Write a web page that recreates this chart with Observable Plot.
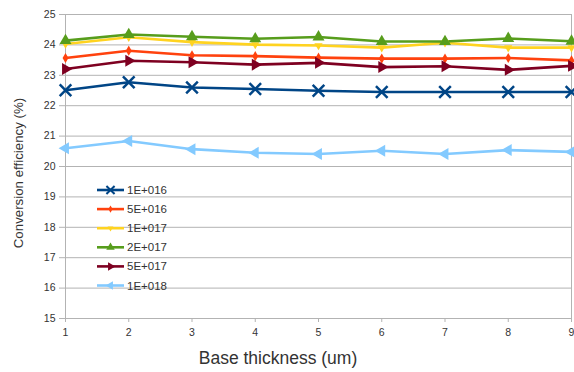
<!DOCTYPE html>
<html><head><meta charset="utf-8">
<script src="https://cdn.jsdelivr.net/npm/d3@7"></script>
<script src="https://cdn.jsdelivr.net/npm/@observablehq/plot@0.6"></script>
<style>
body{margin:0;background:#fff}
#chart{position:relative;width:574px;height:372px}
</style>
</head><body><div id="chart"></div>
<script>
const thickness = [1, 2, 3, 4, 5, 6, 7, 8, 9];
const seriesNames = ["1E+016", "5E+016", "1E+017", "2E+017", "5E+017", "1E+018"];
const s1E016 = [22.51, 22.77, 22.60, 22.55, 22.49, 22.45, 22.45, 22.45, 22.45];
const s5E016 = [23.57, 23.81, 23.66, 23.63, 23.58, 23.55, 23.55, 23.57, 23.49];
const s1E017 = [24.03, 24.25, 24.09, 24.01, 23.98, 23.91, 24.07, 23.91, 23.91];
const s2E017 = [24.14, 24.34, 24.27, 24.20, 24.26, 24.11, 24.11, 24.21, 24.12];
const s5E017 = [23.21, 23.48, 23.43, 23.35, 23.41, 23.27, 23.30, 23.18, 23.31];
const s1E018 = [20.60, 20.84, 20.57, 20.45, 20.41, 20.52, 20.41, 20.54, 20.48];
const yTicks = [15, 16, 17, 18, 19, 20, 21, 22, 23, 24, 25];
const colors = ["#004586", "#ff420e", "#ffd320", "#579d1c", "#7e0021", "#83caff"];
const xLabel = "Base thickness (um)";
const yLabel = "Conversion efficiency (%)";

const seriesValues = [s1E016, s5E016, s1E017, s2E017, s5E017, s1E018];
const rows = [];
seriesNames.forEach((name, si) => {
  seriesValues[si].forEach((v, i) => rows.push({x: thickness[i], y: v, series: name}));
});

function tri(angle) {
  return {
    draw(ctx, size) {
      const r = Math.sqrt(size) * 0.75;
      for (let k = 0; k < 3; k++) {
        const a = angle + k * 2 * Math.PI / 3;
        const px = r * Math.cos(a), py = r * Math.sin(a);
        if (k === 0) ctx.moveTo(px, py); else ctx.lineTo(px, py);
      }
      ctx.closePath();
    }
  };
}
const symbols = [
  d3.symbolTimes,
  d3.symbolDiamond,
  tri(Math.PI / 2),
  tri(-Math.PI / 2),
  tri(0),
  tri(Math.PI)
];
const symSizes = [90, 30, 40, 85, 85, 85];

const font = "'Liberation Sans', Arial, sans-serif";
const marks = [
  Plot.gridY(yTicks, {stroke: "#b3b3b3", strokeOpacity: 1}),
  Plot.ruleX([1, 9], {stroke: "#b3b3b3"}),
  Plot.axisY(yTicks, {tickSize: 6, tickPadding: 4, fontSize: 10.5, label: null, stroke: "#b3b3b3", color: "#333"}),
  Plot.axisX(thickness, {tickSize: 4, tickPadding: 6, fontSize: 10.5, label: null, stroke: "#b3b3b3", color: "#333"}),
  Plot.line(rows, {x: "x", y: "y", z: "series", stroke: "series", strokeWidth: 2.6})
];
seriesNames.forEach((name, si) => {
  const data = rows.filter(d => d.series === name);
  if (si === 0) {
    marks.push(Plot.dot(data, {x: "x", y: "y", symbol: symbols[si], r: Math.sqrt(symSizes[si] / Math.PI), stroke: colors[si], strokeWidth: 2.5, fill: "none"}));
  } else {
    marks.push(Plot.dot(data, {x: "x", y: "y", symbol: symbols[si], r: Math.sqrt(symSizes[si] / Math.PI), fill: colors[si], stroke: "none"}));
  }
});

const chart = Plot.plot({
  width: 574,
  height: 372,
  marginLeft: 65,
  marginRight: 3,
  marginTop: 14,
  marginBottom: 54,
  style: {fontFamily: font, background: "#fff"},
  x: {domain: [1, 9]},
  y: {domain: [15, 25]},
  color: {domain: seriesNames, range: colors},
  marks
});
document.getElementById("chart").appendChild(chart);

const svg = d3.select(chart);
// axis titles
svg.append("text").attr("x", 278).attr("y", 358).attr("dy", "0.35em")
  .attr("text-anchor", "middle").attr("font-family", font).attr("font-size", 17.5)
  .attr("fill", "#333").text(xLabel);
svg.append("text").attr("transform", "translate(18,173) rotate(-90)").attr("dy", "0.35em")
  .attr("text-anchor", "middle").attr("font-family", font).attr("font-size", 13.3)
  .attr("fill", "#333").text(yLabel);

// legend
const lg = svg.append("g").attr("font-family", font).attr("font-size", 11.5).attr("fill", "#333").attr("text-anchor", "start");
seriesNames.forEach((name, i) => {
  const y = 190 + i * 19.1;
  const g = lg.append("g");
  g.append("line").attr("x1", 97).attr("x2", 124).attr("y1", y).attr("y2", y)
    .attr("stroke", colors[i]).attr("stroke-width", 2.6);
  const path = d3.symbol(symbols[i], symSizes[i] * 0.5)();
  const sym = g.append("path").attr("d", path).attr("transform", `translate(110.5,${y})`);
  if (i === 0) sym.attr("fill", "none").attr("stroke", colors[i]).attr("stroke-width", 2);
  else sym.attr("fill", colors[i]);
  g.append("text").attr("x", 127).attr("y", y).attr("dy", "0.35em").text(name);
});
</script></body></html>
